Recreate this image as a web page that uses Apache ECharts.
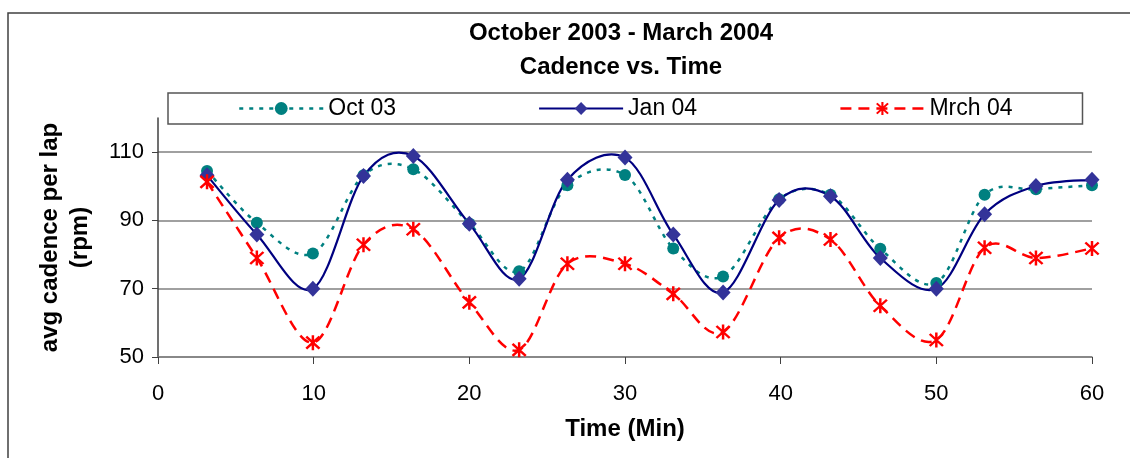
<!DOCTYPE html>
<html>
<head>
<meta charset="utf-8">
<script src="https://cdn.jsdelivr.net/npm/echarts@6/dist/echarts.min.js"></script>
<style>
html,body{margin:0;padding:0;background:#fff;}
#chart{width:1130px;height:458px;}
</style>
</head>
<body>
<div id="chart"></div>
<script>
// ---- data ----
const titleLines = ['October 2003 - March 2004', 'Cadence vs. Time'];
const seriesNames = ['Oct 03', 'Jan 04', 'Mrch 04'];
const timeMin = [3.15, 6.35, 9.95, 13.2, 16.4, 20, 23.2, 26.3, 30, 33.1, 36.3, 39.9, 43.2, 46.4, 50, 53.1, 56.4, 60];
const oct03  = [104.5, 89.3, 80.3, 103.2, 105, 89.1, 75.1, 100.3, 103.3, 81.8, 73.6, 96.2, 97.5, 81.7, 71.7, 97.5, 99.1, 100.3];
const jan04  = [103.2, 85.9, 70, 103, 108.9, 89, 72.9, 101.9, 108.4, 85.9, 68.9, 96, 97.1, 79, 70, 91.8, 100.1, 101.9];
const mrch04 = [101.3, 79, 54.2, 82.9, 87.4, 66, 52.1, 77.3, 77.3, 68.5, 57.3, 84.9, 84.4, 65, 55, 82, 79, 81.8];
const yTicks = [50, 70, 90, 110];
const xAxisTitle = 'Time (Min)';
const yAxisTitle = 'avg cadence per lap\n(rpm)';

const pair = (xs, ys) => xs.map((x, i) => [x, ys[i]]);
const FONT = '"Liberation Sans", Arial, sans-serif';
const starPath = 'path://M-1.5,-10L1.5,-10L1.5,10L-1.5,10Z' +
  'M-6.94,-9.06L9.06,6.94L6.94,9.06L-9.06,-6.94Z' +
  'M9.06,-6.94L-6.94,9.06L-9.06,6.94L6.94,-9.06Z';

const styles = {
  'Oct 03':  {line: {color: '#008080', width: 2.5, type: [4, 6]},  dash: [4, 6],  marker: '#008080', symbol: 'circle', size: 12},
  'Jan 04':  {line: {color: '#000080', width: 2.2, type: 'solid'}, dash: null,    marker: '#333399', symbol: 'diamond', size: [15, 16]},
  'Mrch 04': {line: {color: '#ff0000', width: 2.5, type: [11, 7]}, dash: [11, 7], marker: '#ff0000', symbol: starPath, size: 15}
};
const seriesData = {'Oct 03': oct03, 'Jan 04': jan04, 'Mrch 04': mrch04};

// Excel-like smoothed curve (Bezier through the points), built from the axis scales via api.coord
function curveSeries(name, z) {
  const ys = seriesData[name];
  const st = styles[name];
  return {
    type: 'custom', name: name + ' curve', z: z, clip: false, silent: true,
    data: pair(timeMin, ys), encode: {x: 0, y: 1},
    renderItem: function (params, api) {
      if (params.dataIndex !== 0) return {type: 'group', children: []};
      const p = ys.map((y, i) => api.coord([timeMin[i], y]));
      const n = p.length;
      let d = 'M' + p[0][0] + ',' + p[0][1];
      for (let i = 0; i < n - 1; i++) {
        const p0 = p[Math.max(i - 1, 0)], p1 = p[i], p2 = p[i + 1], p3 = p[Math.min(i + 2, n - 1)];
        const c1x = p1[0] + (p2[0] - p0[0]) / 6, c1y = p1[1] + (p2[1] - p0[1]) / 6;
        const c2x = p2[0] - (p3[0] - p1[0]) / 6, c2y = p2[1] - (p3[1] - p1[1]) / 6;
        d += 'C' + c1x + ',' + c1y + ',' + c2x + ',' + c2y + ',' + p2[0] + ',' + p2[1];
      }
      return {
        type: 'path',
        shape: {pathData: d},
        style: {fill: null, stroke: st.line.color, lineWidth: st.line.width, lineDash: st.dash || null}
      };
    }
  };
}

function markerSeries(name) {
  const st = styles[name];
  return {
    name: name, type: 'line', data: pair(timeMin, seriesData[name]),
    symbol: st.symbol, symbolSize: st.size, clip: false, z: 5,
    lineStyle: {color: st.line.color, width: st.line.width, opacity: 0},
    itemStyle: {color: st.marker}
  };
}

const chart = echarts.init(document.getElementById('chart'), null, {renderer: 'canvas'});
chart.setOption({
  animation: false,
  backgroundColor: '#ffffff',
  textStyle: {fontFamily: FONT},
  graphic: [
    {type: 'rect', silent: true, z: -1,
     shape: {x: 8, y: 13, width: 1300, height: 600},
     style: {fill: 'none', stroke: '#404040', lineWidth: 1.5}},
    {type: 'text', x: 621, y: 16,
     style: {text: titleLines.join('\n'), align: 'center', verticalAlign: 'top',
             font: 'bold 24px ' + FONT, lineHeight: 34, fill: '#000'}}
  ],
  legend: {
    data: seriesNames.map(n => ({
      name: n,
      lineStyle: Object.assign({opacity: 1}, styles[n].line),
      itemStyle: {color: styles[n].marker}
    })),
    left: 168, top: 93,
    padding: [4, 70, 4, 70],
    itemGap: 142,
    itemWidth: 84, itemHeight: 16,
    borderColor: '#555', borderWidth: 1.5,
    textStyle: {fontSize: 23, color: '#000', fontFamily: FONT}
  },
  grid: {left: 158, right: 38, top: 118, bottom: 101, containLabel: false},
  xAxis: {
    type: 'value', min: 0, max: 60, interval: 10,
    name: xAxisTitle, nameLocation: 'middle', nameGap: 60,
    nameTextStyle: {fontSize: 24, fontWeight: 'bold', color: '#000', fontFamily: FONT},
    axisLine: {show: true, onZero: false, lineStyle: {color: '#808080', width: 1.5}},
    axisTick: {show: true, length: 7, lineStyle: {color: '#404040', width: 1}},
    axisLabel: {fontSize: 22, color: '#000', margin: 26, fontFamily: FONT},
    splitLine: {show: false}
  },
  yAxis: {
    type: 'value', min: 50, max: 120, interval: 20,
    name: yAxisTitle, nameLocation: 'middle', nameGap: 63, nameRotate: 90,
    nameTextStyle: {fontSize: 24, fontWeight: 'bold', color: '#000', lineHeight: 30, fontFamily: FONT},
    axisLine: {show: true, lineStyle: {color: '#404040', width: 1.5}},
    axisTick: {show: true, length: 6, customValues: yTicks, lineStyle: {color: '#404040', width: 1}},
    axisLabel: {fontSize: 22, color: '#000', margin: 14, customValues: yTicks, fontFamily: FONT},
    splitLine: {show: true, lineStyle: {color: '#808080', width: 1.5}}
  },
  series: [
    markerSeries('Oct 03'),
    markerSeries('Jan 04'),
    markerSeries('Mrch 04'),
    curveSeries('Mrch 04', 1),
    curveSeries('Oct 03', 2),
    curveSeries('Jan 04', 3)
  ]
});
</script>
</body>
</html>
